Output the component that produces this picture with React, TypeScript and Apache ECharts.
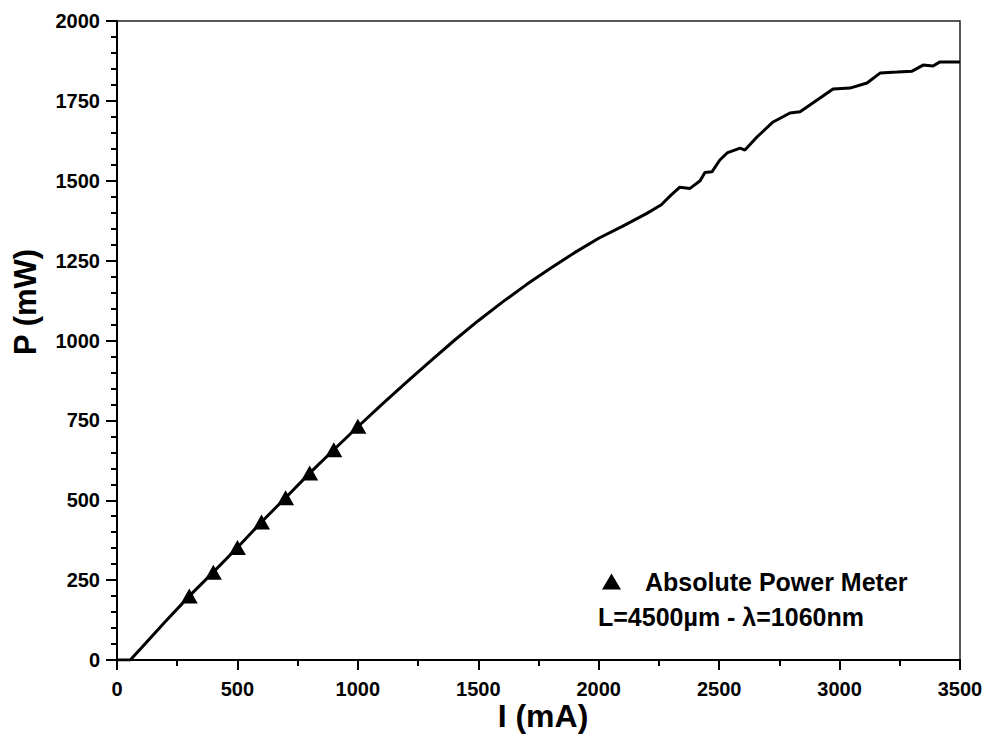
import React, { useEffect, useRef } from "react";
import * as echarts from "echarts";

const curveI = [0, 55, 100, 200, 300, 400, 500, 600, 700, 800, 900, 1000, 1100, 1200, 1300, 1400, 1500, 1600, 1700, 1800, 1900, 2000, 2100, 2200, 2260, 2300, 2337, 2379, 2421, 2441, 2470, 2503, 2533, 2587, 2607, 2657, 2724, 2794, 2836, 2919, 2973, 3043, 3114, 3168, 3239, 3301, 3347, 3388, 3417, 3500];
const curveP = [0, 0, 37, 120, 200, 275, 352, 432, 508, 585, 658, 730, 800, 868, 935, 1000, 1062, 1120, 1175, 1226, 1275, 1320, 1358, 1398, 1425, 1455, 1480, 1476, 1500, 1526, 1528, 1565, 1587, 1602, 1596, 1637, 1684, 1712, 1716, 1759, 1787, 1790, 1806, 1837, 1840, 1843, 1862, 1859, 1872, 1872];

const meterI = [300, 400, 500, 600, 700, 800, 900, 1000];
const meterP = [200, 275, 352, 432, 508, 585, 658, 732];

const xTicks = [0, 500, 1000, 1500, 2000, 2500, 3000, 3500];
const yTicks = [0, 250, 500, 750, 1000, 1250, 1500, 1750, 2000];

const FONT = "'Liberation Sans', Arial, sans-serif";

export default function App() {
  const ref = useRef<HTMLDivElement>(null);
  useEffect(() => {
    if (!ref.current) return;
    const chart = echarts.init(ref.current, null, { renderer: "svg" });
    chart.setOption({
      animation: false,
      backgroundColor: "#fff",
      grid: { left: 117, right: 27, top: 21, bottom: 75, show: true, borderColor: "#222", borderWidth: 1.5, backgroundColor: "transparent" },
      legend: {
        show: true,
        left: 597,
        top: 564,
        itemWidth: 19,
        itemHeight: 16,
        data: [{ name: "Absolute Power Meter", icon: "triangle", itemStyle: { color: "#000", opacity: 1 } }],
        textStyle: { fontFamily: FONT, fontWeight: "bold", fontSize: 25, color: "#000", padding: [0, 0, 0, 19] },
      },
      xAxis: {
        type: "value",
        min: 0,
        max: 3500,
        interval: 500,
        axisLine: { show: true, lineStyle: { color: "#000", width: 2 } },
        axisTick: { show: true, length: 10, inside: false, lineStyle: { color: "#000", width: 2 } },
        minorTick: { show: true, splitNumber: 2, length: 6, lineStyle: { color: "#000", width: 2 } },
        splitLine: { show: false },
        axisLabel: {
          margin: 19,
          fontFamily: FONT,
          fontWeight: "bold",
          fontSize: 20,
          color: "#000",
          formatter: (v: number) => (xTicks.includes(v) ? String(v) : ""),
        },
      },
      yAxis: {
        type: "value",
        min: 0,
        max: 2000,
        interval: 250,
        axisLine: { show: true, lineStyle: { color: "#000", width: 2 } },
        axisTick: { show: true, length: 11, inside: false, lineStyle: { color: "#000", width: 2 } },
        minorTick: { show: true, splitNumber: 5, length: 6, lineStyle: { color: "#000", width: 2 } },
        splitLine: { show: false },
        axisLabel: {
          margin: 17,
          fontFamily: FONT,
          fontWeight: "bold",
          fontSize: 20,
          color: "#000",
          formatter: (v: number) => (yTicks.includes(v) ? String(v) : ""),
        },
      },
      series: [
        {
          name: "Curve",
          type: "line",
          data: curveI.map((x, i) => [x, curveP[i]]),
          showSymbol: false,
          symbol: "none",
          lineStyle: { color: "#000", width: 3 },
          z: 3,
        },
        {
          name: "Absolute Power Meter",
          type: "scatter",
          data: meterI.map((x, i) => [x, meterP[i]]),
          symbol: "triangle",
          symbolSize: [17, 15],
          itemStyle: { color: "#000", opacity: 1 },
          z: 4,
        },
      ],
      graphic: [
        {
          type: "text",
          left: 598,
          top: 604,
          style: { text: "L=4500µm - λ=1060nm", fontFamily: FONT, fontWeight: "bold", fontSize: 25, fill: "#000" },
        },
        {
          type: "text",
          x: 543,
          y: 716,
          style: { text: "I (mA)", fontFamily: FONT, fontWeight: "bold", fontSize: 32, fill: "#000", align: "center", verticalAlign: "middle" },
        },
        {
          type: "text",
          x: 25,
          y: 302,
          rotation: Math.PI / 2,
          style: { text: "P (mW)", fontFamily: FONT, fontWeight: "bold", fontSize: 31, fill: "#000", align: "center", verticalAlign: "middle" },
        },
      ],
    });
    return () => chart.dispose();
  }, []);
  return <div ref={ref} style={{ width: 987, height: 735, position: "absolute", left: 0, top: 0 }} />;
}
